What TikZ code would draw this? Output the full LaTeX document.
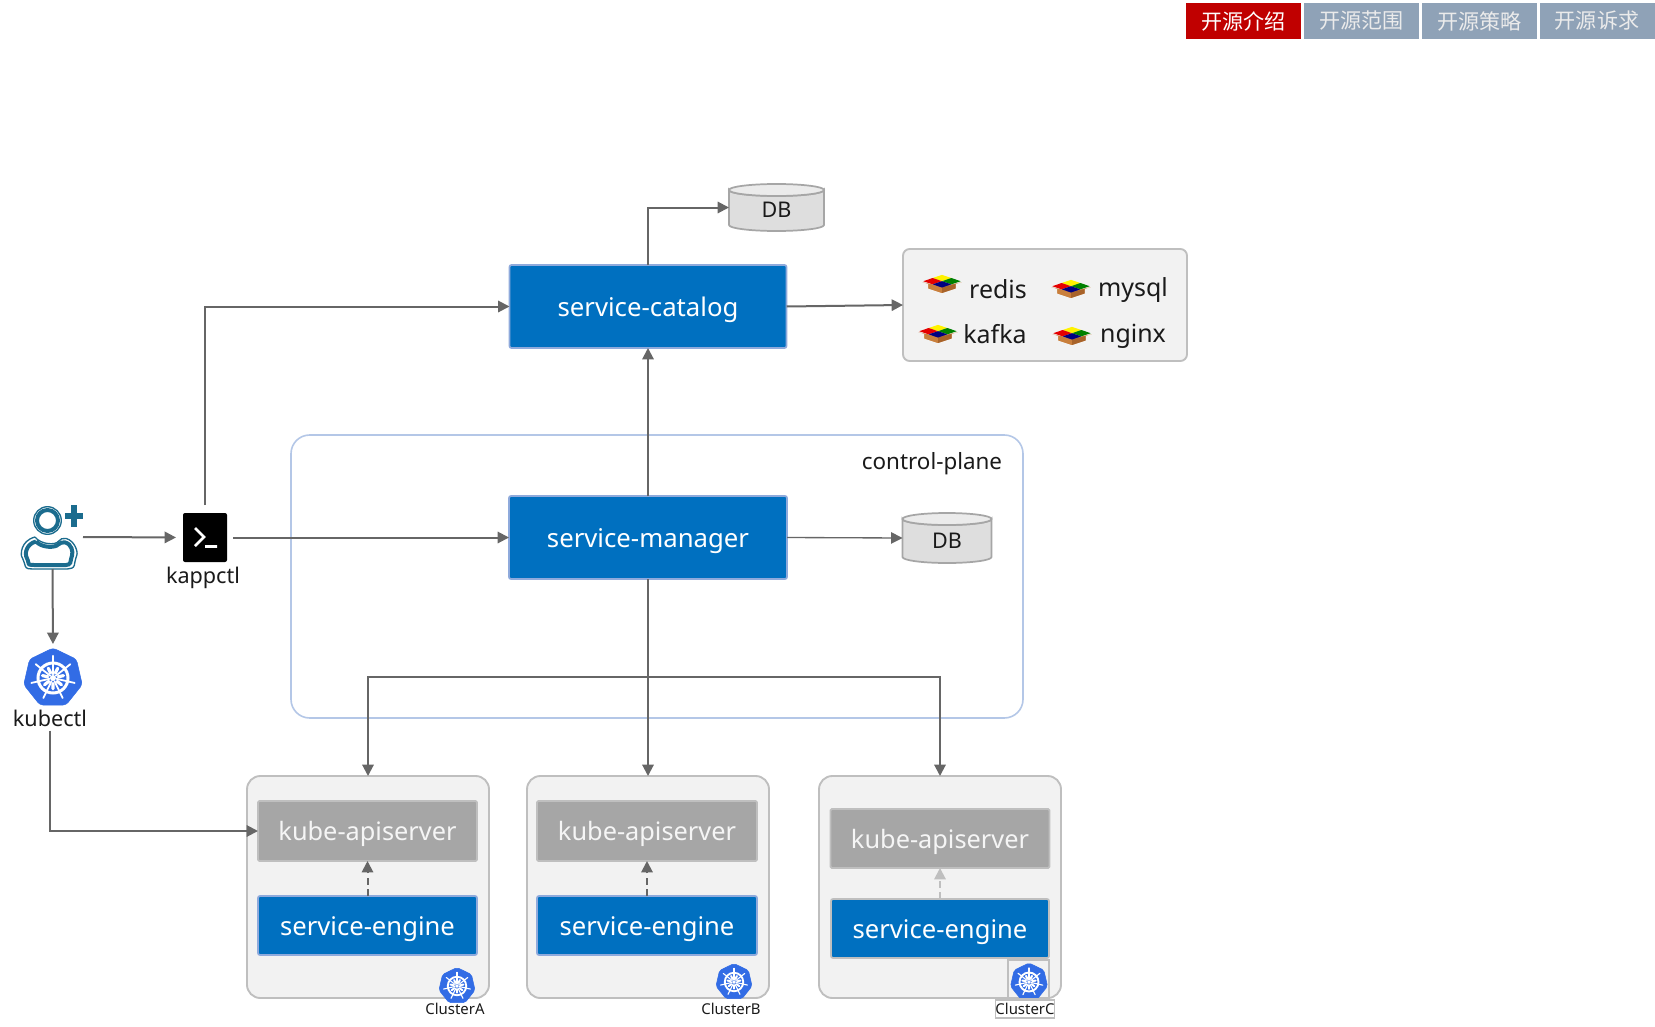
\documentclass[tikz,border=0pt]{standalone}
\usepackage{fontspec}
\setmainfont{Noto Sans}
\newfontfamily\cjk{Noto Sans CJK SC}
\usetikzlibrary{arrows.meta,shapes.geometric,calc}
\definecolor{arrowc}{HTML}{666666}
\definecolor{blueb}{HTML}{0070C0}
\definecolor{blueline}{HTML}{8FAADC}
\definecolor{planec}{HTML}{B4C7E7}
\definecolor{lightb}{HTML}{F2F2F2}
\definecolor{greyb}{HTML}{BFBFBF}
\definecolor{kubef}{HTML}{A6A6A6}
\definecolor{tabg}{HTML}{8FA2B7}
\definecolor{tabr}{HTML}{C00000}
\definecolor{kblue}{HTML}{326CE5}
\definecolor{teal}{HTML}{1B6C8E}
\definecolor{txt}{HTML}{1A1A1A}
\definecolor{boxtan}{HTML}{C97F3C}
\definecolor{boxdark}{HTML}{A8632A}
\tikzset{
  sz/.style 2 args={minimum width=#1*0.75pt,minimum height=#2*0.75pt,inner sep=0pt,outer sep=0pt},
  tabbox/.style={sz={115}{36},font=\cjk\fontsize{15.8}{18}\selectfont,text=white!92!black},
  boxtext/.style={text height=14.6pt,text depth=0pt},
  bluebox/.style={rectangle,rounded corners=1.5pt,fill=blueb,draw=blueline,line width=1.3pt,text=white,boxtext,font=\fontsize{19.3}{22}\selectfont},
  smallblue/.style={bluebox,font=\fontsize{19.2}{22}\selectfont},
  kubebox/.style={rectangle,rounded corners=1pt,fill=kubef,draw=greyb,line width=1.3pt,text=white!96!black,boxtext,font=\fontsize{19}{22}\selectfont},
  groupbox/.style={rectangle,fill=lightb,draw=greyb,line width=1.4pt},
  label/.style={text=txt,inner sep=0pt,font=\fontsize{16.2}{20}\selectfont},
  pkglabel/.style={text=txt,inner sep=0pt,font=\fontsize{18.7}{22}\selectfont},
  small/.style={text=txt,inner sep=0pt,font=\fontsize{11.2}{14}\selectfont},
  conn/.style={draw=arrowc,line width=1.5pt,-{Triangle[length=8.5pt,width=8.5pt]}},
  dashc/.style={conn,dash pattern=on 5pt off 3.5pt},
}
\newcommand{\kubeicon}[4]{%
  \node[regular polygon,regular polygon sides=7,minimum size=#4*1.5pt,inner sep=0pt,outer sep=0pt,fill=kblue,draw=kblue,rounded corners=#4*0.08pt,line width=0.4pt] (#1) at (#2,#3) {};
  \begin{scope}[shift={(#2,#3)},x=#4*0.75pt,y=#4*0.75pt,white,line cap=round]
    \draw[line width=#4*0.075pt] (0,0) circle (0.5);
    \fill (0,0) circle (0.1);
    \foreach \a in {90,141.43,192.86,244.29,295.71,347.14,38.57}{
      \draw[line width=#4*0.045pt] (\a:0.12) -- (\a:0.74);
      \draw[line width=#4*0.08pt] (\a+25.7:0.18) -- (\a+25.7:0.36);
    }
  \end{scope}}
\newcommand{\dbshape}[6]{%
  \pgfmathsetmacro\rx{#4*0.375}%
  \pgfmathsetmacro\xa{#2-#4/2}\pgfmathsetmacro\xb{#2+#4/2}%
  \pgfmathsetmacro\ya{#3-#5/2+6}\pgfmathsetmacro\yb{#3+#5/2-6}%
  \filldraw[fill=black!13,draw=kubef,line width=1.3pt] (\xa,\ya) -- (\xa,\yb) arc[start angle=180,end angle=360,x radius=\rx pt,y radius=4.5pt] -- (\xb,\ya) arc[start angle=0,end angle=-180,x radius=\rx pt,y radius=4.5pt] -- cycle;
  \filldraw[fill=black!8,draw=kubef,line width=1.3pt] (#2,\ya) ellipse[x radius=\rx pt,y radius=4.5pt];
  \node[sz={#4}{#5},label,text height=15pt,text depth=0pt] (#1) at (#2,#3) {#6};}
\newcommand{\pkg}[2]{%
  \begin{scope}[shift={(#1,#2)},x=0.78pt,y=-0.68pt]
    \fill[boxtan] (-19,-1) -- (-13,1) -- (-13,6) -- (0,11) -- (13,6) -- (13,1) -- (19,-1) -- (0,4) -- cycle;
    \fill[boxtan] (-13,1) -- (0,5) -- (0,11) -- (-13,6) -- cycle;
    \fill[boxdark] (13,1) -- (0,5) -- (0,11) -- (13,6) -- cycle;
    \fill[yellow] (0,-9) -- (9,-5.5) -- (0,-2) -- (-9,-5.5) -- cycle;
    \fill[red!90!black] (-9,-5.5) -- (0,-2) -- (-9,1.5) -- (-18,-2) -- cycle;
    \fill[green!50!black] (9,-5.5) -- (18,-2) -- (9,1.5) -- (0,-2) -- cycle;
    \fill[blue!50!black] (0,-2) -- (9,1.5) -- (0,5) -- (-9,1.5) -- cycle;
  \end{scope}}
\begin{document}
\begin{tikzpicture}[x=0.75pt,y=-0.75pt]
\useasboundingbox (0,0) rectangle (1655,1027);
\fill[white] (0,0) rectangle (1655,1027);
% tabs
\node[tabbox,fill=tabr,text=white] (t1) at (1243.5,21) {开源介绍};
\node[tabbox,fill=tabg] (t2) at (1361.5,21) {开源范围};
\node[tabbox,fill=tabg] (t3) at (1479.5,21) {开源策略};
\node[tabbox,fill=tabg] (t4) at (1597,21) {开源诉求};
% control plane
\node[sz={732}{283},rectangle,rounded corners=14pt,draw=planec,line width=1.2pt] (plane) at (657,576.5) {};
\node[label,font=\fontsize{16.8}{20}\selectfont] (planelabel) at (932,464) {control-plane};
% main boxes
\node[bluebox,sz={277}{83}] (cat) at (648,306.5) {service-catalog};
\node[bluebox,sz={278}{83}] (mgr) at (648,537.5) {service-manager};
\dbshape{dba}{776.5}{207.5}{95}{47}{DB}
\dbshape{dbb}{947}{538}{89}{50}{DB}
% package group
\node[groupbox,sz={284}{112},rounded corners=5pt] (pk) at (1045,305) {};
\pkg{942}{283}\pkg{1071}{288}\pkg{938}{333}\pkg{1072}{335}
\node[pkglabel] (redis) at (998,289) {redis};
\node[pkglabel] (mysql) at (1133,290) {mysql};
\node[pkglabel] (kafka) at (995,334) {kafka};
\node[pkglabel] (nginx) at (1133,336) {nginx};
% clusters
\node[groupbox,sz={242}{222},rounded corners=10pt] (ca) at (368,887) {};
\node[groupbox,sz={242}{222},rounded corners=10pt] (cb) at (648,887) {};
\node[groupbox,sz={242}{222},rounded corners=10pt] (cc) at (940,887) {};
\node[kubebox,sz={219}{60}] (ka) at (367.5,831) {kube-apiserver};
\node[kubebox,sz={220}{60}] (kb) at (647,831) {kube-apiserver};
\node[kubebox,sz={219}{59}] (kc) at (940,838.5) {kube-apiserver};
\node[smallblue,sz={219}{59}] (ea) at (367.5,925.5) {service-engine};
\node[smallblue,sz={220}{59}] (eb) at (647,925.5) {service-engine};
\node[smallblue,sz={218}{59},draw=greyb] (ec) at (940,928.5) {service-engine};
\kubeicon{ia}{457}{986}{18.5}
\kubeicon{ib}{734}{982}{18.5}
\kubeicon{ic}{1029}{982}{19}
\node[sz={41}{39},draw=greyb,line width=1pt] (icbox) at (1028.5,979.5) {};
\node[small] (la) at (455,1009) {ClusterA};
\node[small] (lb) at (731,1009) {ClusterB};
\node[small,sz={58}{18},draw=greyb,line width=1pt] (lc) at (1025,1009) {ClusterC};
% user
\node[sz={61}{64}] (user) at (52.5,537) {};
\begin{scope}[teal]
  \draw[line width=1pt] (47.5,520.5) circle (13.8);
  \draw[line width=3pt] (47.5,520.5) circle (10.5);
  \draw[line width=1pt,rounded corners=4pt] (35,537) .. controls (20,541) and (21,555) .. (24,561) .. controls (26,569) and (30,569) .. (38,569) -- (62,569) .. controls (70,569) and (74,568) .. (75,560) .. controls (78,552) and (75,541) .. (61,537) .. controls (56,545) and (41,545) .. (35,537);
  \draw[line width=3pt,rounded corners=3pt] (36,541.5) .. controls (26,544) and (25,554) .. (28,560) .. controls (29,565) and (33,565) .. (38,565) -- (62,565) .. controls (68,565) and (70,564) .. (71,559) .. controls (73,552) and (72,544) .. (61,541.5) .. controls (55,548) and (42,548) .. (36,541.5);
  \draw[line width=4.6pt] (65,516) -- (83,516) (74,505) -- (74,527);
\end{scope}
% kappctl
\node[sz={44}{49},rectangle,rounded corners=1.5pt,fill=black] (kappctl) at (205,537.5) {};
\draw[white,line width=1.9pt] (195,528) -- (204,537) -- (195,546) (205,546.5) -- (217,546.5);
\node[label] (kappl) at (203,578) {kappctl};
% kubectl
\kubeicon{kubectl}{53}{678}{30}
\node[label] (kubel) at (50,718) {kubectl};
% connectors
\draw[conn,shorten <=8*0.75pt] (kappctl.north) |- (cat.west);
\draw[conn,shorten >=7*0.75pt] (user.east) -- (kappctl.west);
\draw[conn,shorten <=6*0.75pt] (kappctl.east) -- (mgr.west);
\draw[conn,shorten >=4*0.75pt] (user.south) -- (kubectl.north);
\draw[conn,shorten <=4*0.75pt] (kubel.south) |- (ka.west);
\draw[conn] (cat.north) |- (dba.west);
\draw[conn] (cat.east) -- (pk.west);
\draw[conn] (mgr.north) -- (cat.south);
\draw[conn,line width=1pt] (mgr.east) -- (dbb.west);
\coordinate (bus) at (648,677);
\draw[conn,-] (mgr.south) -- (bus);
\draw[conn] (mgr.south) -- (cb.north);
\draw[conn] (bus) -| (ca.north);
\draw[conn] (bus) -| (cc.north);
\draw[dashc] (ea.north) -- (ka.south);
\draw[dashc] (eb.north) -- (kb.south);
\draw[dashc,draw=greyb] (ec.north) -- (kc.south);
\end{tikzpicture}
\end{document}
